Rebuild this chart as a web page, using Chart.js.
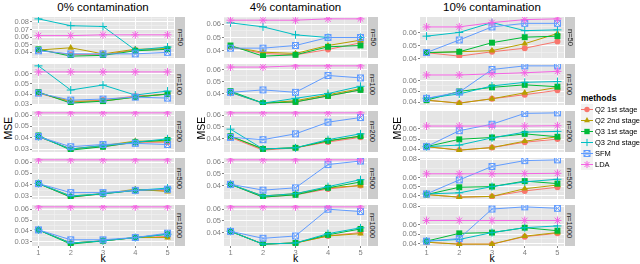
<!DOCTYPE html>
<html>
<head>
<meta charset="utf-8">
<script src="https://cdn.jsdelivr.net/npm/chart.js@4.4.0/dist/chart.umd.min.js"></script>
<style>
  body { margin: 0; width: 640px; height: 264px; background: #fff; position: relative; overflow: hidden;
         font-family: "Liberation Sans", Arial, sans-serif; }
  canvas.cell { position: absolute; }
  .title { position: absolute; top: 1px; font-size: 11.5px; line-height: 13px; text-align: center; color: #000; }
  .strip { position: absolute; background: #ccc; display: flex; align-items: center; justify-content: center; }
  .strip span { transform: rotate(90deg); font-size: 7.5px; white-space: nowrap; color: #1a1a1a; }
  .axis-x { position: absolute; top: 253px; font-size: 10.5px; line-height: 11px; text-align: center; }
  .axis-y { position: absolute; font-size: 10.5px; transform: rotate(-90deg); white-space: nowrap; }
  #legend { position: absolute; left: 581px; top: 92px; width: 70px; font-size: 7.5px; white-space: nowrap; }
  #legend .head { font-weight: bold; font-size: 8.5px; height: 12px; line-height: 12px; }
  #legend .item { height: 11px; display: flex; align-items: center; }
  #legend canvas { margin-right: 2px; flex: none; }
</style>
</head>
<body>
<div id="legend"><div class="head">methods</div></div>
<script>
// k on the x axis, one row of panels per sample size, one column per contamination level
const kValues = [1, 2, 3, 4, 5];
const sampleSizes = ['n=50', 'n=100', 'n=200', 'n=500', 'n=1000'];
const contaminations = ['0% contamination', '4% contamination', '10% contamination'];
const methods = ['Q2 1st stage', 'Q2 2nd stage', 'Q3 1st stage', 'Q3 2nd stage', 'SFM', 'LDA'];
const methodColors = ['#F8766D', '#B79F00', '#00BA38', '#00BFC4', '#619CFF', '#F564E3'];

// MSE values: rows n=50..1000, columns k=1..5
// 0% contamination
const q2first0 = [
  [0.043, 0.037, 0.037, 0.043, 0.044],
  [0.041, 0.032, 0.034, 0.038, 0.040],
  [0.041, 0.030, 0.032, 0.036, 0.036],
  [0.041, 0.029, 0.032, 0.035, 0.035],
  [0.041, 0.029, 0.031, 0.034, 0.035]];
const q2second0 = [
  [0.043, 0.046, 0.038, 0.044, 0.045],
  [0.041, 0.033, 0.033, 0.037, 0.040],
  [0.041, 0.030, 0.033, 0.037, 0.037],
  [0.041, 0.030, 0.032, 0.036, 0.034],
  [0.041, 0.029, 0.031, 0.034, 0.034]];
const q3first0 = [
  [0.044, 0.035, 0.036, 0.042, 0.044],
  [0.042, 0.031, 0.033, 0.037, 0.040],
  [0.042, 0.029, 0.032, 0.036, 0.038],
  [0.041, 0.029, 0.032, 0.035, 0.036],
  [0.041, 0.028, 0.031, 0.034, 0.037]];
const q3second0 = [
  [0.084, 0.075, 0.074, 0.043, 0.047],
  [0.068, 0.044, 0.049, 0.039, 0.043],
  [0.041, 0.030, 0.033, 0.036, 0.039],
  [0.041, 0.030, 0.032, 0.035, 0.037],
  [0.041, 0.029, 0.031, 0.034, 0.037]];
const sfm0 = [
  [0.042, 0.038, 0.038, 0.038, 0.040],
  [0.041, 0.034, 0.035, 0.037, 0.036],
  [0.041, 0.032, 0.034, 0.035, 0.034],
  [0.041, 0.033, 0.033, 0.035, 0.036],
  [0.041, 0.032, 0.032, 0.034, 0.038]];
const lda0 = [
  [0.062, 0.062, 0.063, 0.063, 0.063],
  [0.062, 0.062, 0.062, 0.062, 0.062],
  [0.062, 0.062, 0.062, 0.062, 0.062],
  [0.062, 0.062, 0.062, 0.062, 0.062],
  [0.062, 0.062, 0.062, 0.062, 0.062]];

// 4% contamination
const q2first4 = [
  [0.043, 0.038, 0.037, 0.041, 0.046],
  [0.041, 0.032, 0.033, 0.038, 0.043],
  [0.041, 0.030, 0.032, 0.037, 0.041],
  [0.041, 0.030, 0.032, 0.037, 0.040],
  [0.041, 0.030, 0.031, 0.037, 0.040]];
const q2second4 = [
  [0.043, 0.039, 0.038, 0.044, 0.048],
  [0.041, 0.032, 0.034, 0.039, 0.044],
  [0.042, 0.031, 0.032, 0.038, 0.042],
  [0.041, 0.031, 0.033, 0.038, 0.040],
  [0.041, 0.030, 0.031, 0.037, 0.039]];
const q3first4 = [
  [0.044, 0.036, 0.037, 0.043, 0.044],
  [0.042, 0.032, 0.033, 0.038, 0.043],
  [0.042, 0.031, 0.032, 0.038, 0.042],
  [0.041, 0.030, 0.032, 0.038, 0.043],
  [0.041, 0.030, 0.031, 0.038, 0.043]];
const q3second4 = [
  [0.061, 0.058, 0.052, 0.050, 0.050],
  [0.041, 0.032, 0.036, 0.040, 0.046],
  [0.048, 0.031, 0.032, 0.039, 0.044],
  [0.041, 0.031, 0.033, 0.039, 0.045],
  [0.041, 0.030, 0.031, 0.039, 0.044]];
const sfm4 = [
  [0.042, 0.042, 0.044, 0.050, 0.050],
  [0.041, 0.043, 0.041, 0.055, 0.053],
  [0.041, 0.039, 0.044, 0.054, 0.058],
  [0.041, 0.036, 0.038, 0.058, 0.061],
  [0.041, 0.035, 0.037, 0.060, 0.058]];
const lda4 = [
  [0.063, 0.063, 0.063, 0.064, 0.064],
  [0.062, 0.062, 0.063, 0.063, 0.063],
  [0.062, 0.062, 0.062, 0.062, 0.062],
  [0.062, 0.062, 0.062, 0.062, 0.062],
  [0.062, 0.062, 0.062, 0.062, 0.062]];

// 10% contamination
const q2first10 = [
  [0.0445, 0.0418, 0.0452, 0.0480, 0.0532],
  [0.0420, 0.0393, 0.0433, 0.0470, 0.0510],
  [0.0427, 0.0393, 0.0418, 0.0470, 0.0500],
  [0.0413, 0.0385, 0.0393, 0.0453, 0.0493],
  [0.0415, 0.0395, 0.0395, 0.0475, 0.0510]];
const q2second10 = [
  [0.0445, 0.0452, 0.0461, 0.0515, 0.0595],
  [0.0420, 0.0393, 0.0433, 0.0487, 0.0537],
  [0.0427, 0.0393, 0.0418, 0.0480, 0.0523],
  [0.0413, 0.0385, 0.0393, 0.0477, 0.0517],
  [0.0415, 0.0395, 0.0395, 0.0480, 0.0518]];
const q3first10 = [
  [0.0446, 0.0452, 0.0523, 0.0566, 0.0574],
  [0.0420, 0.0500, 0.0537, 0.0560, 0.0543],
  [0.0427, 0.0498, 0.0516, 0.0551, 0.0523],
  [0.0413, 0.0493, 0.0500, 0.0560, 0.0533],
  [0.0427, 0.0510, 0.0518, 0.0570, 0.0538]];
const q3second10 = [
  [0.0574, 0.0603, 0.0680, 0.0617, 0.0623],
  [0.0437, 0.0477, 0.0550, 0.0583, 0.0590],
  [0.0427, 0.0442, 0.0512, 0.0568, 0.0575],
  [0.0420, 0.0432, 0.0500, 0.0552, 0.0580],
  [0.0427, 0.0445, 0.0518, 0.0570, 0.0589]];
const sfm10 = [
  [0.0446, 0.0544, 0.0646, 0.0674, 0.0674],
  [0.0437, 0.0493, 0.0700, 0.0733, 0.0733],
  [0.0427, 0.0582, 0.0645, 0.0750, 0.0755],
  [0.0420, 0.0573, 0.0720, 0.0784, 0.0792],
  [0.0427, 0.0455, 0.0769, 0.0792, 0.0777]];
const lda10 = [
  [0.0646, 0.0646, 0.0680, 0.0703, 0.0709],
  [0.0650, 0.0650, 0.0660, 0.0670, 0.0683],
  [0.0627, 0.0627, 0.0627, 0.0627, 0.0630],
  [0.0640, 0.0640, 0.0640, 0.0642, 0.0645],
  [0.0647, 0.0647, 0.0647, 0.0647, 0.0647]];

// y tick labels per panel, rows n=50..1000
const yBreaks0 = [[0.04, 0.05, 0.06, 0.07, 0.08], [0.03, 0.04, 0.05, 0.06], [0.03, 0.04, 0.05, 0.06],
                  [0.03, 0.04, 0.05, 0.06], [0.03, 0.04, 0.05, 0.06]];
const yBreaks4 = [[0.04, 0.05, 0.06], [0.04, 0.05, 0.06], [0.04, 0.05, 0.06], [0.04, 0.05, 0.06], [0.04, 0.05, 0.06]];
const yBreaks10 = [[0.04, 0.05, 0.06], [0.04, 0.05, 0.06], [0.04, 0.05, 0.06],
                   [0.04, 0.05, 0.06, 0.08], [0.04, 0.05, 0.06, 0.08]];

const table = [
  [q2first0, q2second0, q3first0, q3second0, sfm0, lda0],
  [q2first4, q2second4, q3first4, q3second4, sfm4, lda4],
  [q2first10, q2second10, q3first10, q3second10, sfm10, lda10]];
const yBreaks = [yBreaks0, yBreaks4, yBreaks10];

// layout of the facet grid
const YW = 22;
const panelLeft = [32, 224, 420];
const panelWidth = [142, 143, 144];
const rowTop = [17, 64, 111, 158, 205];
const rowH = 41;

Chart.defaults.font.family = '"Liberation Sans", Arial, sans-serif';

function boxCross(color) {
  const c = document.createElement('canvas');
  c.width = 9; c.height = 9;
  const g = c.getContext('2d');
  g.strokeStyle = color; g.lineWidth = 1;
  g.strokeRect(1.5, 1.5, 6, 6);
  g.beginPath();
  g.moveTo(1.5, 1.5); g.lineTo(7.5, 7.5);
  g.moveTo(7.5, 1.5); g.lineTo(1.5, 7.5);
  g.stroke();
  return c;
}
const pointStyles = ['circle', 'triangle', 'rect', 'cross', boxCross(methodColors[4]), 'star'];
const pointRadii = [3, 3.8, 4.2, 4, 4.5, 4];
const pointBorders = [0, 0, 0, 1, 1, 1];

const panelBg = {
  id: 'panelBg',
  beforeDraw(chart) {
    const a = chart.chartArea, ctx = chart.ctx;
    ctx.save();
    ctx.fillStyle = '#E5E5E5';
    ctx.fillRect(a.left, a.top, a.right - a.left, a.bottom - a.top);
    ctx.restore();
  }
};

function withMinors(major, lo, hi) {
  const out = major.map(v => ({ value: v, major: true }));
  for (let i = 0; i < major.length - 1; i++) out.push({ value: (major[i] + major[i + 1]) / 2, major: false });
  const step = (major[1] - major[0]) / 2;
  const below = major[0] - step, above = major[major.length - 1] + step;
  if (below > lo) out.push({ value: below, major: false });
  if (above < hi) out.push({ value: above, major: false });
  return out.sort((a, b) => a.value - b.value);
}

function isMajor(list, v) {
  return list.some(t => Math.abs(t - v) < 1e-9);
}

contaminations.forEach((title, c) => {
  const t = document.createElement('div');
  t.className = 'title';
  t.style.left = panelLeft[c] + 'px';
  t.style.width = panelWidth[c] + 'px';
  t.textContent = title;
  document.body.appendChild(t);

  const kx = document.createElement('div');
  kx.className = 'axis-x';
  kx.style.left = panelLeft[c] + 'px';
  kx.style.width = panelWidth[c] + 'px';
  kx.textContent = 'k';
  document.body.appendChild(kx);

  const ylab = document.createElement('div');
  ylab.className = 'axis-y';
  ylab.textContent = 'MSE';
  ylab.style.left = [-3, 190, 386][c] + 'px';
  ylab.style.top = '122px';
  document.body.appendChild(ylab);

  sampleSizes.forEach((n, r) => {
    const bottom = r === sampleSizes.length - 1;
    const xH = bottom ? 11 : 0;
    const canvas = document.createElement('canvas');
    canvas.className = 'cell';
    canvas.width = YW + panelWidth[c];
    canvas.height = 4 + rowH + xH + 4;
    canvas.style.left = (panelLeft[c] - YW) + 'px';
    canvas.style.top = (rowTop[r] - 4) + 'px';
    document.body.appendChild(canvas);

    const strip = document.createElement('div');
    strip.className = 'strip';
    strip.style.left = (panelLeft[c] + panelWidth[c] + 1) + 'px';
    strip.style.top = rowTop[r] + 'px';
    strip.style.width = '10px';
    strip.style.height = rowH + 'px';
    strip.innerHTML = '<span>' + n + '</span>';
    document.body.appendChild(strip);

    const all = [];
    methods.forEach((m, i) => all.push(...table[c][i][r]));
    const lo = Math.min(...all), hi = Math.max(...all);
    const pad = (hi - lo) * 0.05;
    const ymin = lo - pad, ymax = hi + pad;
    const majors = yBreaks[c][r];

    const datasets = methods.map((m, i) => ({
      label: m,
      data: kValues.map((k, j) => ({ x: k, y: table[c][i][r][j] })),
      borderColor: methodColors[i],
      backgroundColor: methodColors[i],
      borderWidth: 1,
      pointStyle: pointStyles[i],
      pointRadius: pointRadii[i],
      pointBorderWidth: pointBorders[i],
      pointBackgroundColor: methodColors[i],
      pointBorderColor: methodColors[i],
      tension: 0,
      fill: false,
      order: methods.length - i
    }));

    new Chart(canvas, {
      type: 'line',
      data: { datasets },
      plugins: [panelBg],
      options: {
        responsive: false,
        animation: false,
        devicePixelRatio: 1,
        layout: { autoPadding: false, padding: { top: 4, bottom: 4, left: 0, right: 0 } },
        plugins: { legend: { display: false }, tooltip: { enabled: false } },
        scales: {
          x: {
            type: 'linear', min: 0.8, max: 5.2,
            afterBuildTicks: s => { s.ticks = [1, 1.5, 2, 2.5, 3, 3.5, 4, 4.5, 5].map(v => ({ value: v })); },
            afterFit: s => { s.height = xH; s.paddingLeft = 0; s.paddingRight = 0; },
            ticks: {
              display: bottom, autoSkip: false, maxRotation: 0, padding: 0,
              color: '#808080', font: { size: 7.5 },
              callback: v => Number.isInteger(v) ? String(v) : ''
            },
            grid: {
              drawTicks: bottom, tickLength: 2,
              color: ctx => ctx.tick && Number.isInteger(ctx.tick.value) ? '#ffffff' : '#F2F2F2',
              lineWidth: ctx => ctx.tick && Number.isInteger(ctx.tick.value) ? 1 : 0.6,
              tickColor: ctx => ctx.tick && Number.isInteger(ctx.tick.value) ? '#808080' : 'rgba(0,0,0,0)'
            },
            border: { display: false }
          },
          y: {
            type: 'linear', min: ymin, max: ymax,
            afterBuildTicks: s => { s.ticks = withMinors(majors, ymin, ymax).map(t => ({ value: t.value })); },
            afterFit: s => { s.width = YW; s.paddingTop = 0; s.paddingBottom = 0; },
            ticks: {
              autoSkip: false, padding: 1, color: '#808080', font: { size: 7.5 },
              callback: v => isMajor(majors, v) ? v.toFixed(2) : ''
            },
            grid: {
              drawTicks: true, tickLength: 2,
              color: ctx => ctx.tick && isMajor(majors, ctx.tick.value) ? '#ffffff' : '#F2F2F2',
              lineWidth: ctx => ctx.tick && isMajor(majors, ctx.tick.value) ? 1 : 0.6,
              tickColor: ctx => ctx.tick && isMajor(majors, ctx.tick.value) ? '#808080' : 'rgba(0,0,0,0)'
            },
            border: { display: false }
          }
        }
      }
    });
  });
});

// legend keys
const legend = document.getElementById('legend');
methods.forEach((m, i) => {
  const item = document.createElement('div');
  item.className = 'item';
  const key = document.createElement('canvas');
  key.width = 12; key.height = 11;
  const g = key.getContext('2d');
  g.fillStyle = '#F2F2F2';
  g.fillRect(0, 0, 12, 11);
  g.strokeStyle = methodColors[i];
  g.lineWidth = 1;
  g.beginPath(); g.moveTo(0, 5.5); g.lineTo(12, 5.5); g.stroke();
  g.fillStyle = methodColors[i];
  if (Chart.helpers && Chart.helpers.drawPoint) {
    Chart.helpers.drawPoint(g, { pointStyle: pointStyles[i], rotation: 0, radius: pointRadii[i] * 0.9, borderWidth: pointBorders[i] }, 6, 5.5);
  }
  item.appendChild(key);
  const label = document.createElement('span');
  label.textContent = m;
  item.appendChild(label);
  legend.appendChild(item);
});
</script>
</body>
</html>
